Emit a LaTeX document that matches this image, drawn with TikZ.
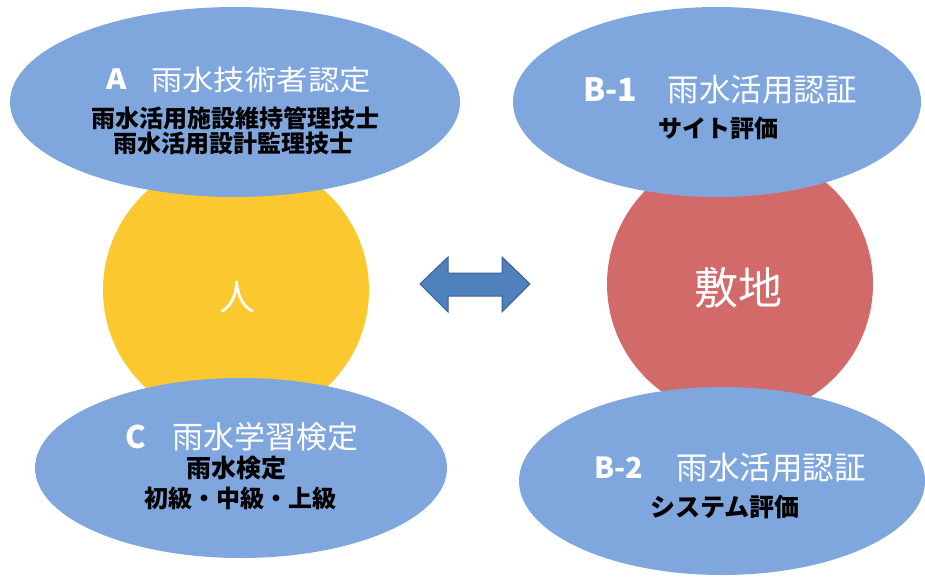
\documentclass[tikz,border=0pt]{standalone}
\usepackage{fontspec}
\setmainfont{Noto Sans CJK JP}
\usetikzlibrary{shapes.geometric}
\definecolor{ellblue}{RGB}{128,167,221}
\definecolor{persyellow}{RGB}{252,200,48}
\definecolor{sitered}{RGB}{210,106,106}
\definecolor{arrblue}{RGB}{79,129,189}
\definecolor{arrline}{RGB}{58,95,145}
\newcommand{\fsz}[1]{\fontsize{#1}{#1}\selectfont}
\tikzset{
  bigell/.style={ellipse, fill=ellblue, inner sep=0pt},
  bigcirc/.style={circle, inner sep=0pt, minimum size=266pt},
  wtitle/.style={text=white, inner sep=0pt, anchor=center},
  btext/.style={text=black, inner sep=0pt, anchor=center, font=\bfseries\fsz{24}},
}
\begin{document}
\begin{tikzpicture}[x=1pt,y=-1pt]
\useasboundingbox (0,0) rectangle (925,578);
% circles
\node[bigcirc, fill=persyellow] (person) at (236,290) {};
\node[bigcirc, fill=sitered] (site) at (740,284) {};
% ellipses
\node[bigell, minimum width=450pt, minimum height=190pt] (A) at (235,102) {};
\node[bigell, minimum width=408pt, minimum height=190pt] (B1) at (717,102) {};
\node[bigell, minimum width=412pt, minimum height=180pt] (C) at (241,468) {};
\node[bigell, minimum width=406pt, minimum height=188pt] (B2) at (722,481) {};
% circle labels
\node[wtitle, font=\fsz{36}] (personlbl) at (237,297) {人};
\node[wtitle, font=\fsz{44}] (sitelbl) at (738,288) {敷地};
% A
\node[wtitle, font=\bfseries\fsz{28}\addfontfeature{FakeStretch=1.1}] (Akey) at (117,79) {A};
\node[wtitle, font=\fsz{28}\addfontfeature{FakeStretch=1.12}] (Atitle) at (261,80) {雨水技術者認定};
\node[btext] (Al1) at (235,118) {雨水活用施設維持管理技士};
\node[btext] (Al2) at (233,143) {雨水活用設計監理技士};
% B-1
\node[wtitle, font=\bfseries\fsz{32}] (B1key) at (610,90) {B-1};
\node[wtitle, font=\fsz{31.5}] (B1title) at (762,90) {雨水活用認証};
\node[btext] (B1l1) at (718,128) {サイト評価};
% C
\node[wtitle, font=\bfseries\fsz{31}] (Ckey) at (136,437) {C};
\node[wtitle, font=\fsz{31}] (Ctitle) at (265,437) {雨水学習検定};
\node[btext, font=\bfseries\fsz{25}] (Cl1) at (236,468) {雨水検定};
\node[btext] (Cl2) at (240,498) {初級・中級・上級};
% B-2
\node[wtitle, font=\bfseries\fsz{29}] (B2key) at (619,468) {B-2};
\node[wtitle, font=\fsz{31.5}] (B2title) at (771,468) {雨水活用認証};
\node[btext, font=\bfseries\fsz{25}] (B2l1) at (725,507) {システム評価};
% double arrow between person and site
\coordinate (arrL) at (420,284);
\coordinate (arrR) at (530,284);
\fill[arrblue, draw=arrline, line width=1pt, line join=miter]
  (arrL) -- (448,257) -- (448,273) -- (502,273) -- (502,257) -- (arrR)
  -- (502,312) -- (502,296) -- (448,296) -- (448,312) -- cycle;
\end{tikzpicture}
\end{document}
